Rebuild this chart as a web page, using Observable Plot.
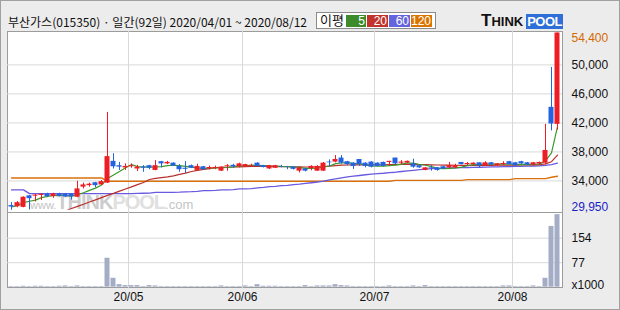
<!DOCTYPE html>
<html><head><meta charset="utf-8">
<script src="https://cdn.jsdelivr.net/npm/d3@7"></script>
<script src="https://cdn.jsdelivr.net/npm/@observablehq/plot@0.6"></script>
<style>
html,body{margin:0;padding:0;background:#ececec;}
#wrap{position:relative;width:620px;height:310px;background:#ececec;overflow:hidden;font-family:"Liberation Sans",Arial,sans-serif;}
#outer{position:absolute;left:0;top:0;width:618px;height:308px;border:1px solid #a0a0a0;}
#title{position:absolute;left:8px;top:13px;font-size:12px;font-family:"Noto Sans CJK KR",sans-serif;color:#111;white-space:nowrap;line-height:18px;}
#legend{position:absolute;left:316px;top:12px;width:118px;height:15px;background:#fff;border:1px solid #8a8a8a;}
#legend .lbl{position:absolute;left:3px;top:-2px;font-size:13px;font-family:"Noto Sans CJK KR",sans-serif;color:#111;line-height:18px;}
.sw{position:absolute;top:2px;height:12px;color:#fff;font-size:12px;line-height:12px;text-align:right;font-family:"Liberation Sans",Arial,sans-serif;}
#logo{position:absolute;left:481px;top:11px;height:18px;white-space:nowrap;line-height:18px;}
#panel{position:absolute;left:7px;top:31px;width:554px;height:255px;background:#fff;border:1px solid #9c9c9c;}
#divider{position:absolute;left:7px;top:212px;width:556px;height:1px;background:#9c9c9c;}
#wm{position:absolute;left:30px;top:191px;white-space:nowrap;line-height:20px;}
.svgbox{position:absolute;left:0;}
</style></head>
<body>
<div id="wrap">
  <div id="outer"></div>
  <div id="title">부산가스(015350) · 일간(92일) 2020/04/01 ~ 2020/08/12</div>
  <div id="legend"><span class="lbl">이평</span></div>
  <div id="logo"><span style="font:bold 17px 'Liberation Sans',Arial;color:#111">T</span><span style="font:bold 13px 'Liberation Sans',Arial;color:#111">HINK</span><span style="font:bold 13px 'Liberation Sans',Arial;color:#fff;background:#2f6fd8;padding:0 1px;margin-left:3px;letter-spacing:-0.5px">POOL</span></div>
  <div id="panel"></div>
  <div id="wm"><span style="font:11px 'Liberation Sans',Arial;color:#c4c4c4">www.</span><span style="font:bold 20px 'Liberation Sans',Arial;color:#cdcdcd;letter-spacing:-1px">THINK</span><span style="font:bold 20px 'Liberation Sans',Arial;color:#e0e0e0;letter-spacing:-1px">POOL</span><span style="font:13px 'Liberation Sans',Arial;color:#c4c4c4">.com</span></div>
  <div id="divider"></div>
  <div id="price" class="svgbox" style="top:31px"></div>
  <div id="volume" class="svgbox" style="top:212px"></div>
</div>
<script>
// ---- data ----
const opens = [30600,30450,30350,31950,31900,32000,32200,31850,32200,32200,
  32150,31750,33150,33350,33750,33450,33700,36700,36100,35800,
  35950,35650,35900,36100,35450,36650,36350,36450,36000,35750,
  36100,35450,35950,35650,35700,35350,36000,36150,35950,35900,
  36050,36450,36100,35650,35750,36000,35950,35900,35350,35650,
  35700,35350,35350,36600,36600,37150,36650,36450,36950,36450,
  36600,36450,36550,36550,37150,36450,36450,36350,36100,35450,
  35800,35800,35950,35800,35800,36550,36250,36250,36500,36100,
  36500,36100,36250,36650,36500,36650,36500,36200,36350,36450,
  44150,41800];
const highs = [31000,31150,31800,32000,32100,32200,32300,32300,32300,32250,
  32250,33950,33700,33700,33800,34050,43450,37750,36550,36350,
  36350,36150,36100,36150,36800,36700,36700,36500,36250,36650,
  36200,36300,36000,36050,36050,35950,36250,36300,36450,36300,
  36300,36500,36150,36150,36150,36150,36000,35950,35900,35750,
  36100,36100,36550,36900,37500,37500,36700,36500,36950,36500,
  36650,36500,36600,36700,37150,36800,36750,37000,36150,35850,
  36100,35850,36000,36550,36300,36550,36550,36500,36500,36650,
  36550,36400,36650,36700,36550,36700,36550,36550,36600,41800,
  49650,54400];
const lows = [29950,30300,30300,30000,31100,31300,31700,31600,31800,31700,
  31350,31700,32900,33150,33050,33400,33650,35650,35450,35450,
  35750,35300,35200,35550,35400,35800,36250,36000,35200,35050,
  35700,35400,35500,35500,35550,35300,35350,35750,35800,35850,
  35900,35950,35800,35600,35700,35800,35550,35500,35100,35250,
  35400,35300,35300,35950,36500,36300,36100,35600,36000,35800,
  35800,35950,35950,36050,36250,36250,36400,35750,35750,35400,
  35350,35350,35600,35750,35700,36200,36100,36200,35800,36000,
  36150,36050,36150,36200,36000,36300,36150,36100,36150,36200,
  40900,41000];
const closes = [30400,31000,31750,31550,32050,32150,31850,32200,31900,31800,
  31800,32900,33450,33550,33350,33900,37350,35950,35900,36000,
  36100,35900,35750,35750,36100,36350,36550,36050,35550,35600,
  35750,36000,35550,35850,35850,35900,36100,35950,36350,36250,
  36150,36000,35850,36100,36100,35950,35900,35600,35800,35350,
  36000,36000,36450,36500,36950,36450,36250,36000,36250,36000,
  35900,36000,36000,36700,36350,36600,36700,35900,35800,35800,
  35700,35450,35650,36100,36100,36250,36400,36450,36100,36500,
  36200,36350,36400,36250,36100,36350,36200,36500,36550,38200,
  41850,54400];
// volume, x1000 shares
const volumes = [2,2,3,2,3,3,2,2,3,4,2,4,2,2,2,2,
  91,28,8,5,5,5,2,5,4,
  2,2,2,2,2,2,2,2,2,2,
  4,2,2,2,4,2,8,3,3,3,
  2,2,2,2,5,2,4,4,4,8,5,4,
  2,2,2,2,2,2,4,2,2,2,4,2,5,
  2,2,2,2,2,2,2,2,2,2,2,2,
  4,4,2,2,2,4,2,28,191,228];
// moving averages
const ma5 = [30400,30600,31000,31200,31350,31700,31870,31960,32030,31980,
  31910,32120,32370,32700,33010,33430,34320,34820,35290,35820,
  36260,35970,35930,35900,35920,35970,36100,36160,36120,36020,
  35900,35790,35690,35750,35800,35830,35850,35930,36030,36110,
  36160,36140,36120,36070,36040,36000,35980,35930,35870,35720,
  35730,35750,35920,36060,36380,36470,36520,36430,36380,36190,
  36080,36030,36030,36120,36190,36330,36470,36450,36270,36160,
  35980,35730,35680,35740,35800,35910,36100,36260,36260,36340,
  36330,36320,36310,36340,36260,36290,36260,36280,36340,36760,
  37860,41500];
const ma20 = [28600,28700,28800,28950,29100,29250,29400,29550,29700,29850,
  30200,30490,30790,31100,31390,31690,32000,32290,32590,32890,33180,33490,33790,
  34200,34350,34450,34550,34700,34900,35080,35300,35450,35600,35700,35820,35880,
  35900,35920,35950,35970,35990,36000,36000,35990,35980,35970,35960,35950,35940,35920,35920,35930,
  35980,36050,36120,36170,36200,36210,36220,36220,36220,36230,36230,36250,36260,36270,36280,36270,
  36250,36240,36220,36200,36180,36170,36160,36150,36150,36150,36140,36150,36150,36160,36170,36180,
  36190,36200,36210,36220,36240,36360,36650,37570];
const ma60 = [32760,32760,32760,32250,32250,32250,32250,32250,32250,32250,
  32250,32250,32250,32250,32250,32250,32250,32250,32250,32250,32250,32280,32300,
  32330,32430,32430,32430,32430,32450,32500,32520,32560,32660,32660,32700,32760,32760,32800,32900,32900,32950,33030,33100,33210,33250,
  33350,33400,33490,33550,33650,33750,33850,33980,34140,34280,34420,34560,34650,34750,34850,34950,35000,35060,35150,35200,35300,35380,35470,
  35560,35630,35700,35720,35750,35780,35800,35830,35850,35870,35890,35910,35930,35950,35970,35990,36000,36020,36040,36060,36080,36150,36250,36450];
const ma120 = [34410,34410,34410,34410,34410,34410,34410,34410,34410,34410,34410,34410,34410,34410,34410,34410,
  33950,33950,33950,33950,33950,33950,33950,33950,33950,33950,33950,33950,33950,33950,33950,33950,
  33950,33950,33950,33950,33950,33950,33950,33950,33950,33950,33950,33950,33950,33950,33950,33950,
  33950,33950,33950,33950,33950,33950,33950,33950,33950,33950,33950,33950,33950,33950,33950,33950,
  34070,34070,34070,34070,34070,34070,34070,34070,34070,34070,34070,34070,
  34180,34180,34180,34180,34180,34180,34180,34180,
  34320,34320,34320,34320,34320,34320,34500,34640];
const monthLabels = ["20/05","20/06","20/07","20/08"];
const monthStartIdx = [20, 39, 61, 84];
const priceTicks = [50000, 46000, 42000, 38000, 34000];
const priceMax = 54400, priceMin = 29950;
const volTicks = [77, 154];
const volTop = 231;
const maNames = ["5","20","60","120"];

// ---- styles ----
const UP = "#ee1c24", DOWN = "#2462e0";
const C5 = "#3c9a2c", C20 = "#b8302c", C60 = "#6a5ae0", C120 = "#d8700c";
const SW = ["#3d8b2b","#c0342c","#6464dc","#dc7400"];
const GRID = "#d9d9d9", VOL = "#a3adc6";
const fmt = d3.format(",");

// legend swatches
const swPos = [[346,20],[367,21],[389,21],[411,21]];
const leg = document.getElementById("legend");
maNames.forEach((n, k) => {
  const s = document.createElement("div");
  s.className = "sw";
  s.style.left = (swPos[k][0] - 317) + "px";
  s.style.width = (swPos[k][1] - 1) + "px";
  s.style.background = SW[k];
  s.style.paddingRight = "1px";
  s.textContent = n;
  leg.appendChild(s);
});

const rows = opens.map((o, i) => ({i, open: o, high: highs[i], low: lows[i], close: closes[i],
  vol: volumes[i], ma5: ma5[i], ma20: ma20[i], ma60: ma60[i], ma120: ma120[i]}));
const candleColor = d => d.close >= d.open ? UP : DOWN;
const xDomain = [-4/6, 91 + 5/6];
const svgStyle = {background: "transparent", overflow: "visible", fontFamily: "'Liberation Sans', Arial, sans-serif", fontSize: "12px"};

const price = Plot.plot({
  width: 620, height: 181,
  marginLeft: 7, marginRight: 58, marginTop: 1.5, marginBottom: 2.2,
  x: {type: "linear", domain: xDomain, axis: null},
  y: {domain: [priceMin, priceMax], axis: null},
  style: svgStyle,
  marks: [
    Plot.ruleY(priceTicks, {y: d => d, stroke: GRID}),
    Plot.ruleX(monthStartIdx, {x: d => d - 0.5, stroke: GRID, insetTop: -2, insetBottom: -3}),
    Plot.line(rows, {x: "i", y: "ma120", stroke: C120, strokeWidth: 1.4, clip: true}),
    Plot.line(rows, {x: "i", y: "ma60", stroke: C60, strokeWidth: 1.3, clip: true}),
    Plot.line(rows, {x: "i", y: "ma20", stroke: C20, strokeWidth: 1.2, clip: true}),
    Plot.line(rows, {x: "i", y: "ma5", stroke: C5, strokeWidth: 1.2, clip: true}),
    Plot.ruleX(rows, {x: "i", y1: "low", y2: "high", stroke: candleColor}),
    Plot.rect(rows, {x1: d => d.i - 0.5, x2: d => d.i + 0.5, y1: "open", y2: "close", fill: candleColor, insetLeft: 0.5, insetRight: 0.5}),
    Plot.text(priceTicks, {y: d => d, text: d => fmt(d), frameAnchor: "right", dx: 9, textAnchor: "start", fill: "#111", fontSize: 12}),
    Plot.text([priceMax], {y: d => d, text: d => fmt(d), frameAnchor: "right", dx: 9, dy: 5, textAnchor: "start", fill: "#d46a00", fontSize: 12}),
    Plot.text([priceMin], {y: d => d, text: d => fmt(d), frameAnchor: "right", dx: 9, dy: -3, textAnchor: "start", fill: "#1c22c8", fontSize: 12})
  ]
});
document.getElementById("price").appendChild(price);

const volume = Plot.plot({
  width: 620, height: 98,
  marginLeft: 7, marginRight: 58, marginTop: 1.2, marginBottom: 23.3,
  x: {type: "linear", domain: xDomain, axis: null},
  y: {domain: [0, volTop], axis: null},
  style: svgStyle,
  marks: [
    Plot.ruleY(volTicks, {y: d => d, stroke: GRID}),
    Plot.ruleX(monthStartIdx, {x: d => d - 0.5, stroke: GRID, insetTop: -1, insetBottom: -1.5}),
    Plot.rect(rows, {x1: d => d.i - 0.5, x2: d => d.i + 0.5, y1: 0, y2: "vol", fill: VOL, insetLeft: 0.5, insetRight: 0.5}),
    Plot.text(volTicks, {y: d => d, text: d => String(d), frameAnchor: "right", dx: 9, textAnchor: "start", fill: "#111", fontSize: 12}),
    Plot.text([0], {y: d => d, text: () => "x1000", frameAnchor: "right", dx: 9, dy: -2, textAnchor: "start", fill: "#111", fontSize: 12}),
    Plot.text(monthLabels, {x: (d, k) => monthStartIdx[k] - 0.5, text: d => d, frameAnchor: "bottom", dy: 14, fill: "#111", fontSize: 12})
  ]
});
document.getElementById("volume").appendChild(volume);
</script>
</body></html>
